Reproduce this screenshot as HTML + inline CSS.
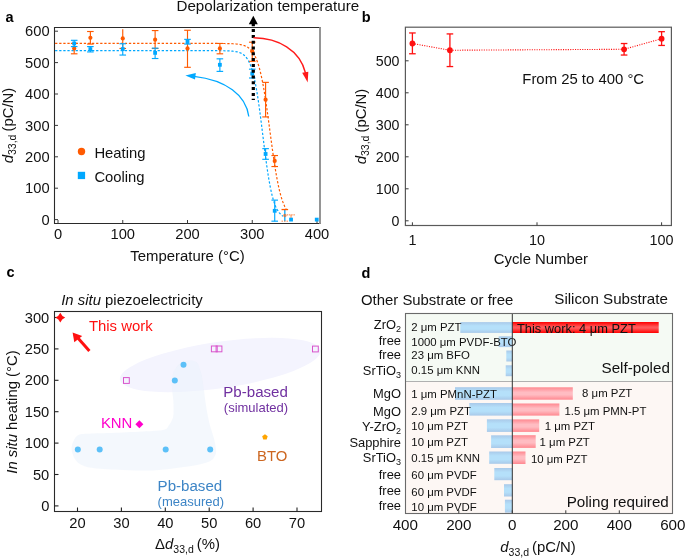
<!DOCTYPE html>
<html><head><meta charset="utf-8"><style>
html,body{margin:0;padding:0;background:#fff;}
svg{display:block;will-change:transform;font-family:"Liberation Sans", sans-serif;}
</style></head><body>
<svg width="685" height="558" viewBox="0 0 685 558">
<rect width="685" height="558" fill="#fff"/>
<text x="5.50" y="22.30" font-size="14.5" text-anchor="start" font-weight="bold" font-style="normal" fill="#000" >a</text>
<path d="M320.5,27.5 H54.5 V223.5 H320.5" fill="none" stroke="#2a2a2a" stroke-width="1.1"/>
<line x1="320.0" y1="26.95" x2="320.0" y2="224.05" stroke="#8a8a8a" stroke-width="1.8"/>
<line x1="54.50" y1="219.60" x2="58.00" y2="219.60" stroke="#3a3a3a" stroke-width="1" />
<text x="49.60" y="224.70" font-size="14.7" text-anchor="end" font-weight="normal" font-style="normal" fill="#111" >0</text>
<line x1="54.50" y1="188.20" x2="58.00" y2="188.20" stroke="#3a3a3a" stroke-width="1" />
<text x="49.60" y="193.30" font-size="14.7" text-anchor="end" font-weight="normal" font-style="normal" fill="#111" >100</text>
<line x1="54.50" y1="156.80" x2="58.00" y2="156.80" stroke="#3a3a3a" stroke-width="1" />
<text x="49.60" y="161.90" font-size="14.7" text-anchor="end" font-weight="normal" font-style="normal" fill="#111" >200</text>
<line x1="54.50" y1="125.40" x2="58.00" y2="125.40" stroke="#3a3a3a" stroke-width="1" />
<text x="49.60" y="130.50" font-size="14.7" text-anchor="end" font-weight="normal" font-style="normal" fill="#111" >300</text>
<line x1="54.50" y1="94.00" x2="58.00" y2="94.00" stroke="#3a3a3a" stroke-width="1" />
<text x="49.60" y="99.10" font-size="14.7" text-anchor="end" font-weight="normal" font-style="normal" fill="#111" >400</text>
<line x1="54.50" y1="62.60" x2="58.00" y2="62.60" stroke="#3a3a3a" stroke-width="1" />
<text x="49.60" y="67.70" font-size="14.7" text-anchor="end" font-weight="normal" font-style="normal" fill="#111" >500</text>
<line x1="54.50" y1="31.20" x2="58.00" y2="31.20" stroke="#3a3a3a" stroke-width="1" />
<text x="49.60" y="36.30" font-size="14.7" text-anchor="end" font-weight="normal" font-style="normal" fill="#111" >600</text>
<line x1="58.00" y1="223.50" x2="58.00" y2="220.00" stroke="#3a3a3a" stroke-width="1" />
<text x="58.00" y="238.80" font-size="14.7" text-anchor="middle" font-weight="normal" font-style="normal" fill="#111" >0</text>
<line x1="122.75" y1="223.50" x2="122.75" y2="220.00" stroke="#3a3a3a" stroke-width="1" />
<text x="122.75" y="238.80" font-size="14.7" text-anchor="middle" font-weight="normal" font-style="normal" fill="#111" >100</text>
<line x1="187.50" y1="223.50" x2="187.50" y2="220.00" stroke="#3a3a3a" stroke-width="1" />
<text x="187.50" y="238.80" font-size="14.7" text-anchor="middle" font-weight="normal" font-style="normal" fill="#111" >200</text>
<line x1="252.25" y1="223.50" x2="252.25" y2="220.00" stroke="#3a3a3a" stroke-width="1" />
<text x="252.25" y="238.80" font-size="14.7" text-anchor="middle" font-weight="normal" font-style="normal" fill="#111" >300</text>
<line x1="317.00" y1="223.50" x2="317.00" y2="220.00" stroke="#3a3a3a" stroke-width="1" />
<text x="317.00" y="238.80" font-size="14.7" text-anchor="middle" font-weight="normal" font-style="normal" fill="#111" >400</text>
<text x="187.50" y="261.30" font-size="14.9" text-anchor="middle" font-weight="normal" font-style="normal" fill="#111" >Temperature (°C)</text>
<text transform="translate(12.7,125.5) rotate(-90)" font-size="14.9" text-anchor="middle" fill="#111"><tspan font-style="italic">d</tspan><tspan font-size="10.5" dy="3.5">33,d</tspan><tspan dy="-3.5" dx="-1.1"> (pC/N)</tspan></text>
<path d="M55.09,50.67 L55.41,50.67 L55.73,50.67 L56.06,50.67 L56.38,50.67 L56.70,50.67 L57.03,50.67 L57.35,50.67 L57.68,50.67 L58.00,50.67 L58.32,50.67 L58.65,50.67 L58.97,50.67 L59.30,50.67 L59.62,50.67 L59.94,50.67 L60.27,50.67 L60.59,50.67 L60.91,50.67 L61.24,50.67 L61.56,50.67 L61.88,50.67 L62.21,50.67 L62.53,50.67 L62.86,50.67 L63.18,50.67 L63.50,50.67 L63.83,50.67 L64.15,50.67 L64.47,50.67 L64.80,50.67 L65.12,50.67 L65.45,50.67 L65.77,50.67 L66.09,50.67 L66.42,50.67 L66.74,50.67 L67.06,50.67 L67.39,50.67 L67.71,50.67 L68.04,50.67 L68.36,50.67 L68.68,50.67 L69.01,50.67 L69.33,50.67 L69.66,50.67 L69.98,50.67 L70.30,50.67 L70.63,50.67 L70.95,50.67 L71.27,50.67 L71.60,50.67 L71.92,50.67 L72.25,50.67 L72.57,50.67 L72.89,50.67 L73.22,50.67 L73.54,50.67 L73.86,50.67 L74.19,50.67 L74.51,50.67 L74.84,50.67 L75.16,50.67 L75.48,50.67 L75.81,50.67 L76.13,50.67 L76.45,50.67 L76.78,50.67 L77.10,50.67 L77.42,50.67 L77.75,50.67 L78.07,50.67 L78.40,50.67 L78.72,50.67 L79.04,50.67 L79.37,50.67 L79.69,50.67 L80.02,50.67 L80.34,50.67 L80.66,50.67 L80.99,50.67 L81.31,50.67 L81.63,50.67 L81.96,50.67 L82.28,50.67 L82.60,50.67 L82.93,50.67 L83.25,50.67 L83.58,50.67 L83.90,50.67 L84.22,50.67 L84.55,50.67 L84.87,50.67 L85.19,50.67 L85.52,50.67 L85.84,50.67 L86.17,50.67 L86.49,50.67 L86.81,50.67 L87.14,50.67 L87.46,50.67 L87.78,50.67 L88.11,50.67 L88.43,50.67 L88.76,50.67 L89.08,50.67 L89.40,50.67 L89.73,50.67 L90.05,50.67 L90.38,50.67 L90.70,50.67 L91.02,50.67 L91.35,50.67 L91.67,50.67 L91.99,50.67 L92.32,50.67 L92.64,50.67 L92.97,50.67 L93.29,50.67 L93.61,50.67 L93.94,50.67 L94.26,50.67 L94.58,50.67 L94.91,50.67 L95.23,50.67 L95.56,50.67 L95.88,50.67 L96.20,50.67 L96.53,50.67 L96.85,50.67 L97.17,50.67 L97.50,50.67 L97.82,50.67 L98.14,50.67 L98.47,50.67 L98.79,50.67 L99.12,50.67 L99.44,50.67 L99.76,50.67 L100.09,50.67 L100.41,50.67 L100.73,50.67 L101.06,50.67 L101.38,50.67 L101.71,50.67 L102.03,50.67 L102.35,50.67 L102.68,50.67 L103.00,50.67 L103.32,50.67 L103.65,50.67 L103.97,50.67 L104.30,50.67 L104.62,50.67 L104.94,50.67 L105.27,50.67 L105.59,50.67 L105.91,50.67 L106.24,50.67 L106.56,50.67 L106.89,50.67 L107.21,50.67 L107.53,50.67 L107.86,50.67 L108.18,50.67 L108.50,50.67 L108.83,50.67 L109.15,50.67 L109.48,50.67 L109.80,50.67 L110.12,50.67 L110.45,50.67 L110.77,50.67 L111.09,50.67 L111.42,50.67 L111.74,50.67 L112.07,50.67 L112.39,50.67 L112.71,50.67 L113.04,50.67 L113.36,50.67 L113.69,50.67 L114.01,50.67 L114.33,50.67 L114.66,50.67 L114.98,50.67 L115.30,50.67 L115.63,50.67 L115.95,50.67 L116.28,50.67 L116.60,50.67 L116.92,50.67 L117.25,50.67 L117.57,50.67 L117.89,50.67 L118.22,50.67 L118.54,50.67 L118.86,50.67 L119.19,50.67 L119.51,50.67 L119.84,50.67 L120.16,50.67 L120.48,50.67 L120.81,50.67 L121.13,50.67 L121.45,50.67 L121.78,50.67 L122.10,50.67 L122.43,50.67 L122.75,50.67 L123.07,50.67 L123.40,50.67 L123.72,50.67 L124.05,50.67 L124.37,50.67 L124.69,50.67 L125.02,50.67 L125.34,50.67 L125.66,50.67 L125.99,50.67 L126.31,50.67 L126.63,50.67 L126.96,50.67 L127.28,50.67 L127.61,50.67 L127.93,50.67 L128.25,50.67 L128.58,50.67 L128.90,50.67 L129.22,50.67 L129.55,50.67 L129.87,50.67 L130.20,50.67 L130.52,50.67 L130.84,50.67 L131.17,50.67 L131.49,50.67 L131.81,50.67 L132.14,50.67 L132.46,50.67 L132.79,50.67 L133.11,50.67 L133.43,50.67 L133.76,50.67 L134.08,50.67 L134.41,50.67 L134.73,50.67 L135.05,50.67 L135.38,50.67 L135.70,50.67 L136.02,50.67 L136.35,50.67 L136.67,50.67 L137.00,50.67 L137.32,50.67 L137.64,50.67 L137.97,50.67 L138.29,50.67 L138.61,50.67 L138.94,50.67 L139.26,50.67 L139.58,50.67 L139.91,50.67 L140.23,50.67 L140.56,50.67 L140.88,50.67 L141.20,50.67 L141.53,50.67 L141.85,50.67 L142.18,50.67 L142.50,50.67 L142.82,50.67 L143.15,50.67 L143.47,50.67 L143.79,50.67 L144.12,50.67 L144.44,50.67 L144.76,50.67 L145.09,50.67 L145.41,50.67 L145.74,50.67 L146.06,50.67 L146.38,50.67 L146.71,50.67 L147.03,50.67 L147.35,50.67 L147.68,50.67 L148.00,50.67 L148.33,50.67 L148.65,50.67 L148.97,50.67 L149.30,50.67 L149.62,50.67 L149.94,50.67 L150.27,50.67 L150.59,50.67 L150.92,50.67 L151.24,50.67 L151.56,50.67 L151.89,50.67 L152.21,50.67 L152.53,50.67 L152.86,50.67 L153.18,50.67 L153.51,50.67 L153.83,50.67 L154.15,50.67 L154.48,50.67 L154.80,50.67 L155.12,50.67 L155.45,50.67 L155.77,50.67 L156.10,50.67 L156.42,50.67 L156.74,50.67 L157.07,50.67 L157.39,50.67 L157.71,50.67 L158.04,50.67 L158.36,50.67 L158.69,50.67 L159.01,50.67 L159.33,50.67 L159.66,50.67 L159.98,50.67 L160.31,50.67 L160.63,50.67 L160.95,50.67 L161.28,50.67 L161.60,50.67 L161.92,50.67 L162.25,50.67 L162.57,50.67 L162.89,50.67 L163.22,50.67 L163.54,50.67 L163.87,50.67 L164.19,50.67 L164.51,50.67 L164.84,50.67 L165.16,50.67 L165.49,50.67 L165.81,50.67 L166.13,50.67 L166.46,50.67 L166.78,50.67 L167.10,50.67 L167.43,50.67 L167.75,50.67 L168.07,50.67 L168.40,50.67 L168.72,50.67 L169.05,50.67 L169.37,50.67 L169.69,50.67 L170.02,50.67 L170.34,50.67 L170.66,50.67 L170.99,50.67 L171.31,50.67 L171.64,50.67 L171.96,50.67 L172.28,50.67 L172.61,50.67 L172.93,50.67 L173.25,50.67 L173.58,50.67 L173.90,50.67 L174.23,50.67 L174.55,50.67 L174.87,50.67 L175.20,50.67 L175.52,50.67 L175.84,50.67 L176.17,50.67 L176.49,50.67 L176.82,50.67 L177.14,50.67 L177.46,50.67 L177.79,50.67 L178.11,50.67 L178.44,50.67 L178.76,50.67 L179.08,50.67 L179.41,50.67 L179.73,50.67 L180.05,50.67 L180.38,50.67 L180.70,50.67 L181.02,50.67 L181.35,50.67 L181.67,50.67 L182.00,50.67 L182.32,50.67 L182.64,50.67 L182.97,50.67 L183.29,50.67 L183.62,50.67 L183.94,50.67 L184.26,50.67 L184.59,50.67 L184.91,50.67 L185.23,50.67 L185.56,50.67 L185.88,50.67 L186.20,50.67 L186.53,50.67 L186.85,50.67 L187.18,50.67 L187.50,50.67 L187.82,50.67 L188.15,50.67 L188.47,50.67 L188.79,50.67 L189.12,50.67 L189.44,50.67 L189.77,50.67 L190.09,50.67 L190.41,50.67 L190.74,50.67 L191.06,50.67 L191.38,50.67 L191.71,50.67 L192.03,50.67 L192.36,50.67 L192.68,50.67 L193.00,50.67 L193.33,50.67 L193.65,50.67 L193.97,50.67 L194.30,50.67 L194.62,50.67 L194.95,50.67 L195.27,50.67 L195.59,50.67 L195.92,50.67 L196.24,50.67 L196.56,50.67 L196.89,50.67 L197.21,50.67 L197.54,50.67 L197.86,50.67 L198.18,50.67 L198.51,50.67 L198.83,50.67 L199.16,50.67 L199.48,50.67 L199.80,50.67 L200.13,50.67 L200.45,50.67 L200.77,50.67 L201.10,50.67 L201.42,50.67 L201.75,50.67 L202.07,50.67 L202.39,50.67 L202.72,50.67 L203.04,50.67 L203.36,50.67 L203.69,50.67 L204.01,50.67 L204.33,50.67 L204.66,50.67 L204.98,50.67 L205.31,50.67 L205.63,50.67 L205.95,50.67 L206.28,50.67 L206.60,50.67 L206.92,50.67 L207.25,50.67 L207.57,50.67 L207.90,50.67 L208.22,50.67 L208.54,50.67 L208.87,50.67 L209.19,50.67 L209.51,50.67 L209.84,50.67 L210.16,50.67 L210.49,50.68 L210.81,50.68 L211.13,50.68 L211.46,50.68 L211.78,50.68 L212.10,50.68 L212.43,50.68 L212.75,50.68 L213.08,50.68 L213.40,50.68 L213.72,50.68 L214.05,50.68 L214.37,50.68 L214.69,50.68 L215.02,50.69 L215.34,50.69 L215.67,50.69 L215.99,50.69 L216.31,50.69 L216.64,50.69 L216.96,50.69 L217.28,50.70 L217.61,50.70 L217.93,50.70 L218.26,50.70 L218.58,50.70 L218.90,50.71 L219.23,50.71 L219.55,50.71 L219.88,50.71 L220.20,50.72 L220.52,50.72 L220.85,50.72 L221.17,50.73 L221.49,50.73 L221.82,50.73 L222.14,50.74 L222.47,50.74 L222.79,50.75 L223.11,50.75 L223.44,50.76 L223.76,50.76 L224.08,50.77 L224.41,50.77 L224.73,50.78 L225.05,50.79 L225.38,50.80 L225.70,50.80 L226.03,50.81 L226.35,50.82 L226.67,50.83 L227.00,50.84 L227.32,50.85 L227.64,50.87 L227.97,50.88 L228.29,50.89 L228.62,50.91 L228.94,50.92 L229.26,50.94 L229.59,50.96 L229.91,50.97 L230.23,50.99 L230.56,51.01 L230.88,51.04 L231.21,51.06 L231.53,51.09 L231.85,51.11 L232.18,51.14 L232.50,51.17 L232.82,51.20 L233.15,51.24 L233.47,51.27 L233.80,51.31 L234.12,51.35 L234.44,51.40 L234.77,51.44 L235.09,51.49 L235.41,51.55 L235.74,51.60 L236.06,51.66 L236.39,51.72 L236.71,51.79 L237.03,51.86 L237.36,51.94 L237.68,52.02 L238.00,52.11 L238.33,52.20 L238.65,52.29 L238.98,52.40 L239.30,52.51 L239.62,52.62 L239.95,52.75 L240.27,52.88 L240.59,53.02 L240.92,53.17 L241.24,53.32 L241.57,53.49 L241.89,53.67 L242.21,53.86 L242.54,54.06 L242.86,54.27 L243.19,54.50 L243.51,54.74 L243.83,54.99 L244.16,55.26 L244.48,55.55 L244.80,55.85 L245.13,56.17 L245.45,56.51 L245.77,56.87 L246.10,57.25 L246.42,57.66 L246.75,58.09 L247.07,58.54 L247.39,59.02 L247.72,59.53 L248.04,60.06 L248.36,60.63 L248.69,61.23 L249.01,61.86 L249.34,62.52 L249.66,63.23 L249.98,63.97 L250.31,64.75 L250.63,65.57 L250.95,66.44 L251.28,67.35 L251.60,68.31 L251.93,69.31 L252.25,70.37 L252.57,71.48 L252.90,72.64 L253.22,73.85 L253.54,75.12 L253.87,76.45 L254.19,77.83 L254.52,79.28 L254.84,80.79 L255.16,82.36 L255.49,83.99 L255.81,85.68 L256.13,87.43 L256.46,89.25 L256.78,91.13 L257.11,93.07 L257.43,95.08 L257.75,97.14 L258.08,99.26 L258.40,101.44 L258.73,103.67 L259.05,105.96 L259.37,108.29 L259.70,110.67 L260.02,113.10 L260.34,115.56 L260.67,118.06 L260.99,120.59 L261.31,123.15 L261.64,125.73 L261.96,128.33 L262.29,130.94 L262.61,133.56 L262.93,136.18 L263.26,138.80 L263.58,141.42 L263.90,144.02 L264.23,146.60 L264.55,149.17 L264.88,151.70 L265.20,154.21 L265.52,156.68 L265.85,159.11 L266.17,161.50 L266.50,163.85 L266.82,166.14 L267.14,168.39 L267.47,170.58 L267.79,172.71 L268.11,174.78 L268.44,176.80 L268.76,178.75 L269.08,180.65 L269.41,182.48 L269.73,184.24 L270.06,185.95 L270.38,187.59 L270.70,189.17 L271.03,190.69 L271.35,192.15 L271.67,193.55 L272.00,194.89 L272.32,196.17 L272.65,197.39 L272.97,198.56 L273.29,199.68 L273.62,200.75 L273.94,201.76 L274.26,202.73 L274.59,203.65 L274.91,204.52 L275.24,205.36 L275.56,206.15 L275.88,206.90 L276.21,207.61 L276.53,208.28 L276.86,208.92 L277.18,209.52 L277.50,210.10 L277.83,210.64 L278.15,211.15 L278.47,211.64 L278.80,212.09 L279.12,212.53 L279.44,212.94 L279.77,213.32 L280.09,213.69 L280.42,214.03 L280.74,214.36 L281.06,214.66 L281.39,214.95 L281.71,215.22 L282.03,215.48 L282.36,215.72 L282.68,215.95 L283.01,216.17" fill="none" stroke="#00a8ff" stroke-width="1.2" stroke-dasharray="2.3 1.8"/>
<path d="M55.09,43.45 L55.41,43.45 L55.73,43.45 L56.06,43.45 L56.38,43.45 L56.70,43.45 L57.03,43.45 L57.35,43.45 L57.68,43.45 L58.00,43.45 L58.32,43.45 L58.65,43.45 L58.97,43.45 L59.30,43.45 L59.62,43.45 L59.94,43.45 L60.27,43.45 L60.59,43.45 L60.91,43.45 L61.24,43.45 L61.56,43.45 L61.88,43.45 L62.21,43.45 L62.53,43.45 L62.86,43.45 L63.18,43.45 L63.50,43.45 L63.83,43.45 L64.15,43.45 L64.47,43.45 L64.80,43.45 L65.12,43.45 L65.45,43.45 L65.77,43.45 L66.09,43.45 L66.42,43.45 L66.74,43.45 L67.06,43.45 L67.39,43.45 L67.71,43.45 L68.04,43.45 L68.36,43.45 L68.68,43.45 L69.01,43.45 L69.33,43.45 L69.66,43.45 L69.98,43.45 L70.30,43.45 L70.63,43.45 L70.95,43.45 L71.27,43.45 L71.60,43.45 L71.92,43.45 L72.25,43.45 L72.57,43.45 L72.89,43.45 L73.22,43.45 L73.54,43.45 L73.86,43.45 L74.19,43.45 L74.51,43.45 L74.84,43.45 L75.16,43.45 L75.48,43.45 L75.81,43.45 L76.13,43.45 L76.45,43.45 L76.78,43.45 L77.10,43.45 L77.42,43.45 L77.75,43.45 L78.07,43.45 L78.40,43.45 L78.72,43.45 L79.04,43.45 L79.37,43.45 L79.69,43.45 L80.02,43.45 L80.34,43.45 L80.66,43.45 L80.99,43.45 L81.31,43.45 L81.63,43.45 L81.96,43.45 L82.28,43.45 L82.60,43.45 L82.93,43.45 L83.25,43.45 L83.58,43.45 L83.90,43.45 L84.22,43.45 L84.55,43.45 L84.87,43.45 L85.19,43.45 L85.52,43.45 L85.84,43.45 L86.17,43.45 L86.49,43.45 L86.81,43.45 L87.14,43.45 L87.46,43.45 L87.78,43.45 L88.11,43.45 L88.43,43.45 L88.76,43.45 L89.08,43.45 L89.40,43.45 L89.73,43.45 L90.05,43.45 L90.38,43.45 L90.70,43.45 L91.02,43.45 L91.35,43.45 L91.67,43.45 L91.99,43.45 L92.32,43.45 L92.64,43.45 L92.97,43.45 L93.29,43.45 L93.61,43.45 L93.94,43.45 L94.26,43.45 L94.58,43.45 L94.91,43.45 L95.23,43.45 L95.56,43.45 L95.88,43.45 L96.20,43.45 L96.53,43.45 L96.85,43.45 L97.17,43.45 L97.50,43.45 L97.82,43.45 L98.14,43.45 L98.47,43.45 L98.79,43.45 L99.12,43.45 L99.44,43.45 L99.76,43.45 L100.09,43.45 L100.41,43.45 L100.73,43.45 L101.06,43.45 L101.38,43.45 L101.71,43.45 L102.03,43.45 L102.35,43.45 L102.68,43.45 L103.00,43.45 L103.32,43.45 L103.65,43.45 L103.97,43.45 L104.30,43.45 L104.62,43.45 L104.94,43.45 L105.27,43.45 L105.59,43.45 L105.91,43.45 L106.24,43.45 L106.56,43.45 L106.89,43.45 L107.21,43.45 L107.53,43.45 L107.86,43.45 L108.18,43.45 L108.50,43.45 L108.83,43.45 L109.15,43.45 L109.48,43.45 L109.80,43.45 L110.12,43.45 L110.45,43.45 L110.77,43.45 L111.09,43.45 L111.42,43.45 L111.74,43.45 L112.07,43.45 L112.39,43.45 L112.71,43.45 L113.04,43.45 L113.36,43.45 L113.69,43.45 L114.01,43.45 L114.33,43.45 L114.66,43.45 L114.98,43.45 L115.30,43.45 L115.63,43.45 L115.95,43.45 L116.28,43.45 L116.60,43.45 L116.92,43.45 L117.25,43.45 L117.57,43.45 L117.89,43.45 L118.22,43.45 L118.54,43.45 L118.86,43.45 L119.19,43.45 L119.51,43.45 L119.84,43.45 L120.16,43.45 L120.48,43.45 L120.81,43.45 L121.13,43.45 L121.45,43.45 L121.78,43.45 L122.10,43.45 L122.43,43.45 L122.75,43.45 L123.07,43.45 L123.40,43.45 L123.72,43.45 L124.05,43.45 L124.37,43.45 L124.69,43.45 L125.02,43.45 L125.34,43.45 L125.66,43.45 L125.99,43.45 L126.31,43.45 L126.63,43.45 L126.96,43.45 L127.28,43.45 L127.61,43.45 L127.93,43.45 L128.25,43.45 L128.58,43.45 L128.90,43.45 L129.22,43.45 L129.55,43.45 L129.87,43.45 L130.20,43.45 L130.52,43.45 L130.84,43.45 L131.17,43.45 L131.49,43.45 L131.81,43.45 L132.14,43.45 L132.46,43.45 L132.79,43.45 L133.11,43.45 L133.43,43.45 L133.76,43.45 L134.08,43.45 L134.41,43.45 L134.73,43.45 L135.05,43.45 L135.38,43.45 L135.70,43.45 L136.02,43.45 L136.35,43.45 L136.67,43.45 L137.00,43.45 L137.32,43.45 L137.64,43.45 L137.97,43.45 L138.29,43.45 L138.61,43.45 L138.94,43.45 L139.26,43.45 L139.58,43.45 L139.91,43.45 L140.23,43.45 L140.56,43.45 L140.88,43.45 L141.20,43.45 L141.53,43.45 L141.85,43.45 L142.18,43.45 L142.50,43.45 L142.82,43.45 L143.15,43.45 L143.47,43.45 L143.79,43.45 L144.12,43.45 L144.44,43.45 L144.76,43.45 L145.09,43.45 L145.41,43.45 L145.74,43.45 L146.06,43.45 L146.38,43.45 L146.71,43.45 L147.03,43.45 L147.35,43.45 L147.68,43.45 L148.00,43.45 L148.33,43.45 L148.65,43.45 L148.97,43.45 L149.30,43.45 L149.62,43.45 L149.94,43.45 L150.27,43.45 L150.59,43.45 L150.92,43.45 L151.24,43.45 L151.56,43.45 L151.89,43.45 L152.21,43.45 L152.53,43.45 L152.86,43.45 L153.18,43.45 L153.51,43.45 L153.83,43.45 L154.15,43.45 L154.48,43.45 L154.80,43.45 L155.12,43.45 L155.45,43.45 L155.77,43.45 L156.10,43.45 L156.42,43.45 L156.74,43.45 L157.07,43.45 L157.39,43.45 L157.71,43.45 L158.04,43.45 L158.36,43.45 L158.69,43.45 L159.01,43.45 L159.33,43.45 L159.66,43.45 L159.98,43.45 L160.31,43.45 L160.63,43.45 L160.95,43.45 L161.28,43.45 L161.60,43.45 L161.92,43.45 L162.25,43.45 L162.57,43.45 L162.89,43.45 L163.22,43.45 L163.54,43.45 L163.87,43.45 L164.19,43.45 L164.51,43.45 L164.84,43.45 L165.16,43.45 L165.49,43.45 L165.81,43.45 L166.13,43.45 L166.46,43.45 L166.78,43.45 L167.10,43.45 L167.43,43.45 L167.75,43.45 L168.07,43.45 L168.40,43.45 L168.72,43.45 L169.05,43.45 L169.37,43.45 L169.69,43.45 L170.02,43.45 L170.34,43.45 L170.66,43.45 L170.99,43.45 L171.31,43.45 L171.64,43.45 L171.96,43.45 L172.28,43.45 L172.61,43.45 L172.93,43.45 L173.25,43.45 L173.58,43.45 L173.90,43.45 L174.23,43.45 L174.55,43.45 L174.87,43.45 L175.20,43.45 L175.52,43.45 L175.84,43.45 L176.17,43.45 L176.49,43.45 L176.82,43.45 L177.14,43.45 L177.46,43.45 L177.79,43.45 L178.11,43.45 L178.44,43.45 L178.76,43.45 L179.08,43.45 L179.41,43.45 L179.73,43.45 L180.05,43.45 L180.38,43.45 L180.70,43.45 L181.02,43.45 L181.35,43.45 L181.67,43.45 L182.00,43.45 L182.32,43.45 L182.64,43.45 L182.97,43.45 L183.29,43.45 L183.62,43.45 L183.94,43.45 L184.26,43.45 L184.59,43.45 L184.91,43.45 L185.23,43.45 L185.56,43.45 L185.88,43.45 L186.20,43.45 L186.53,43.45 L186.85,43.45 L187.18,43.45 L187.50,43.45 L187.82,43.45 L188.15,43.45 L188.47,43.45 L188.79,43.45 L189.12,43.45 L189.44,43.45 L189.77,43.45 L190.09,43.45 L190.41,43.45 L190.74,43.45 L191.06,43.45 L191.38,43.45 L191.71,43.45 L192.03,43.45 L192.36,43.45 L192.68,43.45 L193.00,43.45 L193.33,43.45 L193.65,43.45 L193.97,43.45 L194.30,43.45 L194.62,43.45 L194.95,43.45 L195.27,43.45 L195.59,43.45 L195.92,43.45 L196.24,43.45 L196.56,43.45 L196.89,43.45 L197.21,43.45 L197.54,43.45 L197.86,43.45 L198.18,43.45 L198.51,43.45 L198.83,43.45 L199.16,43.45 L199.48,43.45 L199.80,43.45 L200.13,43.45 L200.45,43.45 L200.77,43.45 L201.10,43.45 L201.42,43.45 L201.75,43.45 L202.07,43.45 L202.39,43.45 L202.72,43.45 L203.04,43.45 L203.36,43.45 L203.69,43.45 L204.01,43.45 L204.33,43.45 L204.66,43.45 L204.98,43.45 L205.31,43.45 L205.63,43.45 L205.95,43.45 L206.28,43.45 L206.60,43.45 L206.92,43.45 L207.25,43.45 L207.57,43.45 L207.90,43.45 L208.22,43.45 L208.54,43.45 L208.87,43.45 L209.19,43.45 L209.51,43.45 L209.84,43.45 L210.16,43.45 L210.49,43.45 L210.81,43.45 L211.13,43.45 L211.46,43.45 L211.78,43.45 L212.10,43.46 L212.43,43.46 L212.75,43.46 L213.08,43.46 L213.40,43.46 L213.72,43.46 L214.05,43.46 L214.37,43.46 L214.69,43.46 L215.02,43.46 L215.34,43.46 L215.67,43.46 L215.99,43.46 L216.31,43.46 L216.64,43.47 L216.96,43.47 L217.28,43.47 L217.61,43.47 L217.93,43.47 L218.26,43.47 L218.58,43.47 L218.90,43.47 L219.23,43.48 L219.55,43.48 L219.88,43.48 L220.20,43.48 L220.52,43.48 L220.85,43.49 L221.17,43.49 L221.49,43.49 L221.82,43.49 L222.14,43.50 L222.47,43.50 L222.79,43.50 L223.11,43.51 L223.44,43.51 L223.76,43.51 L224.08,43.52 L224.41,43.52 L224.73,43.52 L225.05,43.53 L225.38,43.53 L225.70,43.54 L226.03,43.54 L226.35,43.55 L226.67,43.55 L227.00,43.56 L227.32,43.57 L227.64,43.57 L227.97,43.58 L228.29,43.59 L228.62,43.60 L228.94,43.61 L229.26,43.61 L229.59,43.62 L229.91,43.63 L230.23,43.65 L230.56,43.66 L230.88,43.67 L231.21,43.68 L231.53,43.69 L231.85,43.71 L232.18,43.72 L232.50,43.74 L232.82,43.76 L233.15,43.77 L233.47,43.79 L233.80,43.81 L234.12,43.83 L234.44,43.85 L234.77,43.88 L235.09,43.90 L235.41,43.93 L235.74,43.95 L236.06,43.98 L236.39,44.01 L236.71,44.05 L237.03,44.08 L237.36,44.12 L237.68,44.15 L238.00,44.19 L238.33,44.24 L238.65,44.28 L238.98,44.33 L239.30,44.38 L239.62,44.43 L239.95,44.49 L240.27,44.54 L240.59,44.61 L240.92,44.67 L241.24,44.74 L241.57,44.81 L241.89,44.89 L242.21,44.97 L242.54,45.06 L242.86,45.15 L243.19,45.24 L243.51,45.34 L243.83,45.45 L244.16,45.56 L244.48,45.68 L244.80,45.81 L245.13,45.94 L245.45,46.08 L245.77,46.23 L246.10,46.38 L246.42,46.55 L246.75,46.72 L247.07,46.90 L247.39,47.09 L247.72,47.30 L248.04,47.51 L248.36,47.74 L248.69,47.97 L249.01,48.22 L249.34,48.49 L249.66,48.76 L249.98,49.06 L250.31,49.36 L250.63,49.69 L250.95,50.03 L251.28,50.39 L251.60,50.77 L251.93,51.16 L252.25,51.58 L252.57,52.02 L252.90,52.49 L253.22,52.97 L253.54,53.48 L253.87,54.02 L254.19,54.58 L254.52,55.17 L254.84,55.79 L255.16,56.44 L255.49,57.12 L255.81,57.83 L256.13,58.58 L256.46,59.36 L256.78,60.18 L257.11,61.03 L257.43,61.93 L257.75,62.86 L258.08,63.84 L258.40,64.86 L258.73,65.92 L259.05,67.02 L259.37,68.17 L259.70,69.37 L260.02,70.62 L260.34,71.91 L260.67,73.25 L260.99,74.65 L261.31,76.09 L261.64,77.59 L261.96,79.13 L262.29,80.73 L262.61,82.38 L262.93,84.08 L263.26,85.84 L263.58,87.64 L263.90,89.49 L264.23,91.40 L264.55,93.35 L264.88,95.35 L265.20,97.39 L265.52,99.48 L265.85,101.62 L266.17,103.79 L266.50,106.00 L266.82,108.24 L267.14,110.52 L267.47,112.83 L267.79,115.17 L268.11,117.53 L268.44,119.91 L268.76,122.31 L269.08,124.72 L269.41,127.15 L269.73,129.58 L270.06,132.01 L270.38,134.44 L270.70,136.87 L271.03,139.29 L271.35,141.70 L271.67,144.09 L272.00,146.46 L272.32,148.81 L272.65,151.14 L272.97,153.44 L273.29,155.70 L273.62,157.94 L273.94,160.13 L274.26,162.29 L274.59,164.40 L274.91,166.48 L275.24,168.50 L275.56,170.48 L275.88,172.42 L276.21,174.30 L276.53,176.13 L276.86,177.92 L277.18,179.65 L277.50,181.33 L277.83,182.96 L278.15,184.54 L278.47,186.06 L278.80,187.54 L279.12,188.96 L279.44,190.33 L279.77,191.66 L280.09,192.93 L280.42,194.16 L280.74,195.34 L281.06,196.47 L281.39,197.56 L281.71,198.60 L282.03,199.60 L282.36,200.56 L282.68,201.48 L283.01,202.36 L283.33,203.20 L283.65,204.00 L283.98,204.77 L284.30,205.50 L284.62,206.20 L284.95,206.87 L285.27,207.51 L285.60,208.12 L285.92,208.70 L286.24,209.25" fill="none" stroke="#ff5a00" stroke-width="1.2" stroke-dasharray="2.3 1.8"/>
<line x1="74.19" y1="43.45" x2="74.19" y2="53.81" stroke="#ff5a00" stroke-width="1.15" />
<line x1="70.89" y1="43.45" x2="77.49" y2="43.45" stroke="#ff5a00" stroke-width="1.15" />
<line x1="70.89" y1="53.81" x2="77.49" y2="53.81" stroke="#ff5a00" stroke-width="1.15" />
<circle cx="74.19" cy="48.47" r="2.1" fill="#ff5a00"/>
<line x1="90.38" y1="31.51" x2="90.38" y2="44.07" stroke="#ff5a00" stroke-width="1.15" />
<line x1="87.08" y1="31.51" x2="93.67" y2="31.51" stroke="#ff5a00" stroke-width="1.15" />
<line x1="87.08" y1="44.07" x2="93.67" y2="44.07" stroke="#ff5a00" stroke-width="1.15" />
<circle cx="90.38" cy="37.79" r="2.1" fill="#ff5a00"/>
<line x1="122.75" y1="29.32" x2="122.75" y2="48.47" stroke="#ff5a00" stroke-width="1.15" />
<line x1="119.45" y1="48.47" x2="126.05" y2="48.47" stroke="#ff5a00" stroke-width="1.15" />
<circle cx="122.75" cy="38.42" r="2.1" fill="#ff5a00"/>
<line x1="155.12" y1="30.57" x2="155.12" y2="48.47" stroke="#ff5a00" stroke-width="1.15" />
<line x1="151.82" y1="30.57" x2="158.43" y2="30.57" stroke="#ff5a00" stroke-width="1.15" />
<line x1="151.82" y1="48.47" x2="158.43" y2="48.47" stroke="#ff5a00" stroke-width="1.15" />
<circle cx="155.12" cy="39.68" r="2.1" fill="#ff5a00"/>
<line x1="187.50" y1="30.26" x2="187.50" y2="67.31" stroke="#ff5a00" stroke-width="1.15" />
<line x1="184.20" y1="30.26" x2="190.80" y2="30.26" stroke="#ff5a00" stroke-width="1.15" />
<line x1="184.20" y1="67.31" x2="190.80" y2="67.31" stroke="#ff5a00" stroke-width="1.15" />
<circle cx="187.50" cy="48.47" r="2.1" fill="#ff5a00"/>
<line x1="219.88" y1="43.45" x2="219.88" y2="53.81" stroke="#ff5a00" stroke-width="1.15" />
<line x1="216.57" y1="43.45" x2="223.18" y2="43.45" stroke="#ff5a00" stroke-width="1.15" />
<line x1="216.57" y1="53.81" x2="223.18" y2="53.81" stroke="#ff5a00" stroke-width="1.15" />
<circle cx="219.88" cy="48.47" r="2.1" fill="#ff5a00"/>
<line x1="252.25" y1="42.19" x2="252.25" y2="61.34" stroke="#ff5a00" stroke-width="1.15" />
<line x1="248.95" y1="42.19" x2="255.55" y2="42.19" stroke="#ff5a00" stroke-width="1.15" />
<line x1="248.95" y1="61.34" x2="255.55" y2="61.34" stroke="#ff5a00" stroke-width="1.15" />
<circle cx="252.25" cy="51.30" r="2.1" fill="#ff5a00"/>
<line x1="265.59" y1="82.38" x2="265.59" y2="116.92" stroke="#ff5a00" stroke-width="1.15" />
<line x1="262.29" y1="82.38" x2="268.89" y2="82.38" stroke="#ff5a00" stroke-width="1.15" />
<line x1="262.29" y1="116.92" x2="268.89" y2="116.92" stroke="#ff5a00" stroke-width="1.15" />
<circle cx="265.59" cy="99.65" r="2.1" fill="#ff5a00"/>
<line x1="274.72" y1="155.54" x2="274.72" y2="166.53" stroke="#ff5a00" stroke-width="1.15" />
<line x1="271.42" y1="155.54" x2="278.02" y2="155.54" stroke="#ff5a00" stroke-width="1.15" />
<line x1="271.42" y1="166.53" x2="278.02" y2="166.53" stroke="#ff5a00" stroke-width="1.15" />
<circle cx="274.72" cy="160.88" r="2.1" fill="#ff5a00"/>
<line x1="74.19" y1="40.31" x2="74.19" y2="46.59" stroke="#00a8ff" stroke-width="1.15" />
<line x1="70.89" y1="40.31" x2="77.49" y2="40.31" stroke="#00a8ff" stroke-width="1.15" />
<line x1="70.89" y1="46.59" x2="77.49" y2="46.59" stroke="#00a8ff" stroke-width="1.15" />
<rect x="72.29" y="41.55" width="3.8" height="3.8" fill="#00a8ff"/>
<line x1="90.38" y1="46.59" x2="90.38" y2="51.92" stroke="#00a8ff" stroke-width="1.15" />
<line x1="87.08" y1="46.59" x2="93.67" y2="46.59" stroke="#00a8ff" stroke-width="1.15" />
<line x1="87.08" y1="51.92" x2="93.67" y2="51.92" stroke="#00a8ff" stroke-width="1.15" />
<rect x="88.47" y="47.20" width="3.8" height="3.8" fill="#00a8ff"/>
<line x1="122.75" y1="43.76" x2="122.75" y2="55.06" stroke="#00a8ff" stroke-width="1.15" />
<line x1="119.45" y1="43.76" x2="126.05" y2="43.76" stroke="#00a8ff" stroke-width="1.15" />
<line x1="119.45" y1="55.06" x2="126.05" y2="55.06" stroke="#00a8ff" stroke-width="1.15" />
<rect x="120.85" y="47.20" width="3.8" height="3.8" fill="#00a8ff"/>
<line x1="155.12" y1="48.16" x2="155.12" y2="58.52" stroke="#00a8ff" stroke-width="1.15" />
<line x1="151.82" y1="48.16" x2="158.43" y2="48.16" stroke="#00a8ff" stroke-width="1.15" />
<line x1="151.82" y1="58.52" x2="158.43" y2="58.52" stroke="#00a8ff" stroke-width="1.15" />
<rect x="153.22" y="50.97" width="3.8" height="3.8" fill="#00a8ff"/>
<line x1="187.50" y1="39.36" x2="187.50" y2="44.07" stroke="#00a8ff" stroke-width="1.15" />
<line x1="184.20" y1="39.36" x2="190.80" y2="39.36" stroke="#00a8ff" stroke-width="1.15" />
<line x1="184.20" y1="44.07" x2="190.80" y2="44.07" stroke="#00a8ff" stroke-width="1.15" />
<rect x="185.60" y="39.98" width="3.8" height="3.8" fill="#00a8ff"/>
<line x1="219.88" y1="58.83" x2="219.88" y2="71.39" stroke="#00a8ff" stroke-width="1.15" />
<line x1="216.57" y1="58.83" x2="223.18" y2="58.83" stroke="#00a8ff" stroke-width="1.15" />
<line x1="216.57" y1="71.39" x2="223.18" y2="71.39" stroke="#00a8ff" stroke-width="1.15" />
<rect x="217.97" y="62.90" width="3.8" height="3.8" fill="#00a8ff"/>
<line x1="252.25" y1="69.19" x2="252.25" y2="77.99" stroke="#00a8ff" stroke-width="1.15" />
<line x1="248.95" y1="69.19" x2="255.55" y2="69.19" stroke="#00a8ff" stroke-width="1.15" />
<line x1="248.95" y1="77.99" x2="255.55" y2="77.99" stroke="#00a8ff" stroke-width="1.15" />
<rect x="250.35" y="71.69" width="3.8" height="3.8" fill="#00a8ff"/>
<line x1="265.59" y1="148.64" x2="265.59" y2="159.31" stroke="#00a8ff" stroke-width="1.15" />
<line x1="262.29" y1="148.64" x2="268.89" y2="148.64" stroke="#00a8ff" stroke-width="1.15" />
<line x1="262.29" y1="159.31" x2="268.89" y2="159.31" stroke="#00a8ff" stroke-width="1.15" />
<rect x="263.69" y="152.07" width="3.8" height="3.8" fill="#00a8ff"/>
<line x1="274.72" y1="200.13" x2="274.72" y2="221.17" stroke="#00a8ff" stroke-width="1.15" />
<line x1="271.42" y1="200.13" x2="278.02" y2="200.13" stroke="#00a8ff" stroke-width="1.15" />
<line x1="271.42" y1="221.17" x2="278.02" y2="221.17" stroke="#00a8ff" stroke-width="1.15" />
<rect x="272.82" y="208.91" width="3.8" height="3.8" fill="#00a8ff"/>
<line x1="284.82" y1="209.55" x2="284.82" y2="221.17" stroke="#00a8ff" stroke-width="1.3" />
<line x1="281.52" y1="221.17" x2="288.12" y2="221.17" stroke="#ff5a00" stroke-width="1.0" stroke-dasharray="1.5 1" stroke-opacity="0.7"/>
<line x1="281.52" y1="209.55" x2="288.12" y2="209.55" stroke="#ff5a00" stroke-width="1.3" />
<circle cx="284.82" cy="215.52" r="1.8" fill="#ff5a00" fill-opacity="0.6"/>
<line x1="291.04" y1="214.89" x2="291.04" y2="218.66" stroke="#ff5a00" stroke-width="0.9" stroke-opacity="0.8"/>
<line x1="286.84" y1="214.89" x2="295.24" y2="214.89" stroke="#ff5a00" stroke-width="1.0" stroke-dasharray="1.4 0.8" stroke-opacity="0.8"/>
<rect x="289.14" y="217.70" width="3.8" height="3.8" fill="#00a8ff"/>
<rect x="314.84" y="217.70" width="3.8" height="3.8" fill="#00a8ff"/>
<circle cx="81.5" cy="151.5" r="3.7" fill="#ff5a00"/>
<rect x="77.8" y="171.8" width="7.3" height="7.3" fill="#00a8ff"/>
<text x="94.40" y="158.20" font-size="14.8" text-anchor="start" font-weight="normal" font-style="normal" fill="#111" >Heating</text>
<text x="94.40" y="181.80" font-size="14.8" text-anchor="start" font-weight="normal" font-style="normal" fill="#111" >Cooling</text>
<line x1="253.30" y1="24.00" x2="253.30" y2="100.00" stroke="#000" stroke-width="3.2" stroke-dasharray="3 2.8" stroke-dashoffset="0.7"/>
<polygon points="253.3,15.7 248.8,24.3 257.8,24.3" fill="#000"/>
<text x="176.50" y="10.90" font-size="15.15" text-anchor="start" font-weight="normal" font-style="normal" fill="#111" >Depolarization temperature</text>
<path d="M253.5,37.8 C278,38 300,50 305.5,73" fill="none" stroke="#ff1a1a" stroke-width="1.4"/>
<polygon points="307.7,82.6 302.2,72.8 308.3,71.8" fill="#ff1a1a"/>
<path d="M248.8,116.5 C246,95 226,80 194,76.3" fill="none" stroke="#00a8ff" stroke-width="1.3"/>
<polygon points="185.4,75.4 195.8,73.0 195.0,79.4" fill="#00a8ff"/>
<text x="361.80" y="22.00" font-size="14.5" text-anchor="start" font-weight="bold" font-style="normal" fill="#000" >b</text>
<rect x="405.4" y="27.2" width="266.0" height="198.3" fill="none" stroke="#5a5a5a" stroke-width="1.2"/>
<line x1="405.40" y1="220.80" x2="408.60" y2="220.80" stroke="#3a3a3a" stroke-width="1" />
<text x="399.50" y="225.80" font-size="14.2" text-anchor="end" font-weight="normal" font-style="normal" fill="#111" >0</text>
<line x1="405.40" y1="188.80" x2="408.60" y2="188.80" stroke="#3a3a3a" stroke-width="1" />
<text x="399.50" y="193.80" font-size="14.2" text-anchor="end" font-weight="normal" font-style="normal" fill="#111" >100</text>
<line x1="405.40" y1="156.80" x2="408.60" y2="156.80" stroke="#3a3a3a" stroke-width="1" />
<text x="399.50" y="161.80" font-size="14.2" text-anchor="end" font-weight="normal" font-style="normal" fill="#111" >200</text>
<line x1="405.40" y1="124.80" x2="408.60" y2="124.80" stroke="#3a3a3a" stroke-width="1" />
<text x="399.50" y="129.80" font-size="14.2" text-anchor="end" font-weight="normal" font-style="normal" fill="#111" >300</text>
<line x1="405.40" y1="92.80" x2="408.60" y2="92.80" stroke="#3a3a3a" stroke-width="1" />
<text x="399.50" y="97.80" font-size="14.2" text-anchor="end" font-weight="normal" font-style="normal" fill="#111" >400</text>
<line x1="405.40" y1="60.80" x2="408.60" y2="60.80" stroke="#3a3a3a" stroke-width="1" />
<text x="399.50" y="65.80" font-size="14.2" text-anchor="end" font-weight="normal" font-style="normal" fill="#111" >500</text>
<line x1="412.40" y1="225.50" x2="412.40" y2="222.30" stroke="#3a3a3a" stroke-width="1" />
<text x="412.40" y="245.20" font-size="14.4" text-anchor="middle" font-weight="normal" font-style="normal" fill="#111" >1</text>
<line x1="537.00" y1="225.50" x2="537.00" y2="222.30" stroke="#3a3a3a" stroke-width="1" />
<text x="537.00" y="245.20" font-size="14.4" text-anchor="middle" font-weight="normal" font-style="normal" fill="#111" >10</text>
<line x1="661.60" y1="225.50" x2="661.60" y2="222.30" stroke="#3a3a3a" stroke-width="1" />
<text x="661.60" y="245.20" font-size="14.4" text-anchor="middle" font-weight="normal" font-style="normal" fill="#111" >100</text>
<text x="540.90" y="263.50" font-size="14.9" text-anchor="middle" font-weight="normal" font-style="normal" fill="#111" >Cycle Number</text>
<text transform="translate(365.5,126.5) rotate(-90)" font-size="14.9" text-anchor="middle" fill="#111"><tspan font-style="italic">d</tspan><tspan font-size="10.5" dy="3.5">33,d</tspan><tspan dy="-3.5" dx="-1.1"> (pC/N)</tspan></text>
<path d="M412.40,43.52 L449.91,50.24 L624.09,49.28 L661.60,38.72" fill="none" stroke="#ff1010" stroke-width="1.1" stroke-dasharray="1.1 1.3"/>
<line x1="412.40" y1="32.96" x2="412.40" y2="53.76" stroke="#ff1010" stroke-width="1.3" />
<line x1="409.10" y1="32.96" x2="415.70" y2="32.96" stroke="#ff1010" stroke-width="1.3" />
<line x1="409.10" y1="53.76" x2="415.70" y2="53.76" stroke="#ff1010" stroke-width="1.3" />
<circle cx="412.40" cy="43.52" r="2.9" fill="#ff1010"/>
<line x1="449.91" y1="33.92" x2="449.91" y2="66.56" stroke="#ff1010" stroke-width="1.3" />
<line x1="446.61" y1="33.92" x2="453.21" y2="33.92" stroke="#ff1010" stroke-width="1.3" />
<line x1="446.61" y1="66.56" x2="453.21" y2="66.56" stroke="#ff1010" stroke-width="1.3" />
<circle cx="449.91" cy="50.24" r="2.9" fill="#ff1010"/>
<line x1="624.09" y1="43.52" x2="624.09" y2="55.04" stroke="#ff1010" stroke-width="1.3" />
<line x1="620.79" y1="43.52" x2="627.39" y2="43.52" stroke="#ff1010" stroke-width="1.3" />
<line x1="620.79" y1="55.04" x2="627.39" y2="55.04" stroke="#ff1010" stroke-width="1.3" />
<circle cx="624.09" cy="49.28" r="2.9" fill="#ff1010"/>
<line x1="661.60" y1="31.68" x2="661.60" y2="45.44" stroke="#ff1010" stroke-width="1.3" />
<line x1="658.30" y1="31.68" x2="664.90" y2="31.68" stroke="#ff1010" stroke-width="1.3" />
<line x1="658.30" y1="45.44" x2="664.90" y2="45.44" stroke="#ff1010" stroke-width="1.3" />
<circle cx="661.60" cy="38.72" r="2.9" fill="#ff1010"/>
<text x="522.30" y="84.30" font-size="14.9" text-anchor="start" font-weight="normal" font-style="normal" fill="#111" >From 25 to 400 °C</text>
<text x="6.50" y="276.90" font-size="14.5" text-anchor="start" font-weight="bold" font-style="normal" fill="#000" >c</text>
<text x="61.2" y="304.6" font-size="14.9" fill="#111"><tspan font-style="italic">In situ</tspan> piezoelectricity</text>
<defs><clipPath id="cc"><rect x="54.5" y="311.5" width="267.0" height="200.0"/></clipPath></defs>
<g clip-path="url(#cc)">
<ellipse cx="220.2" cy="365.0" rx="101.4" ry="23.2" transform="rotate(-8.3 220.2 365)" fill="#f4f4fe"/>
<path d="M190.80,360.50 C193.50,360.50 195.82,361.73 197.30,363.10 C198.78,364.47 198.97,366.68 199.70,368.70 C200.43,370.72 201.17,372.78 201.70,375.20 C202.23,377.62 202.50,380.52 202.90,383.20 C203.30,385.88 203.72,388.50 204.10,391.30 C204.48,394.10 204.78,397.00 205.20,400.00 C205.62,403.00 205.88,405.35 206.60,409.30 C207.32,413.25 208.30,418.92 209.50,423.70 C210.70,428.48 212.72,433.70 213.80,438.00 C214.88,442.30 215.77,446.62 216.00,449.50 C216.23,452.38 216.17,453.38 215.20,455.30 C214.23,457.22 213.42,459.33 210.20,461.00 C206.98,462.67 201.88,464.10 195.90,465.30 C189.92,466.50 181.52,467.35 174.30,468.20 C167.08,469.05 161.08,470.12 152.60,470.40 C144.12,470.68 133.13,470.27 123.40,469.90 C113.67,469.53 101.02,468.97 94.20,468.20 C87.38,467.43 85.67,466.77 82.50,465.30 C79.33,463.83 77.02,462.08 75.20,459.40 C73.38,456.72 71.83,452.37 71.60,449.20 C71.37,446.03 72.47,442.83 73.80,440.40 C75.13,437.97 76.20,435.77 79.60,434.60 C83.00,433.43 86.90,433.77 94.20,433.40 C101.50,433.03 113.67,432.80 123.40,432.40 C133.13,432.00 145.67,431.48 152.60,431.00 C159.53,430.52 162.33,430.37 165.00,429.50 C167.67,428.63 167.28,427.72 168.60,425.80 C169.92,423.88 172.07,420.75 172.90,418.00 C173.73,415.25 173.53,412.30 173.60,409.30 C173.67,406.30 173.52,403.00 173.30,400.00 C173.08,397.00 172.53,394.10 172.30,391.30 C172.07,388.50 171.83,385.88 171.90,383.20 C171.97,380.52 172.10,377.62 172.70,375.20 C173.30,372.78 174.10,370.72 175.50,368.70 C176.90,366.68 178.55,364.47 181.10,363.10 C183.65,361.73 188.10,360.50 190.80,360.50 Z" fill="#e9f1fc" fill-opacity="0.5"/>
</g>
<rect x="54.5" y="311.5" width="267.0" height="200.0" fill="none" stroke="#2a2a2a" stroke-width="1.1"/>
<line x1="54.50" y1="505.90" x2="58.50" y2="505.90" stroke="#222" stroke-width="1.1" />
<text x="49.30" y="511.00" font-size="14.7" text-anchor="end" font-weight="normal" font-style="normal" fill="#111" >0</text>
<line x1="54.50" y1="474.50" x2="58.50" y2="474.50" stroke="#222" stroke-width="1.1" />
<text x="49.30" y="479.60" font-size="14.7" text-anchor="end" font-weight="normal" font-style="normal" fill="#111" >50</text>
<line x1="54.50" y1="443.10" x2="58.50" y2="443.10" stroke="#222" stroke-width="1.1" />
<text x="49.30" y="448.20" font-size="14.7" text-anchor="end" font-weight="normal" font-style="normal" fill="#111" >100</text>
<line x1="54.50" y1="411.70" x2="58.50" y2="411.70" stroke="#222" stroke-width="1.1" />
<text x="49.30" y="416.80" font-size="14.7" text-anchor="end" font-weight="normal" font-style="normal" fill="#111" >150</text>
<line x1="54.50" y1="380.30" x2="58.50" y2="380.30" stroke="#222" stroke-width="1.1" />
<text x="49.30" y="385.40" font-size="14.7" text-anchor="end" font-weight="normal" font-style="normal" fill="#111" >200</text>
<line x1="54.50" y1="348.90" x2="58.50" y2="348.90" stroke="#222" stroke-width="1.1" />
<text x="49.30" y="354.00" font-size="14.7" text-anchor="end" font-weight="normal" font-style="normal" fill="#111" >250</text>
<line x1="54.50" y1="317.50" x2="58.50" y2="317.50" stroke="#222" stroke-width="1.1" />
<text x="49.30" y="322.60" font-size="14.7" text-anchor="end" font-weight="normal" font-style="normal" fill="#111" >300</text>
<line x1="77.50" y1="511.50" x2="77.50" y2="507.50" stroke="#222" stroke-width="1.1" />
<text x="77.50" y="527.80" font-size="14.7" text-anchor="middle" font-weight="normal" font-style="normal" fill="#111" >20</text>
<line x1="121.40" y1="511.50" x2="121.40" y2="507.50" stroke="#222" stroke-width="1.1" />
<text x="121.40" y="527.80" font-size="14.7" text-anchor="middle" font-weight="normal" font-style="normal" fill="#111" >30</text>
<line x1="165.30" y1="511.50" x2="165.30" y2="507.50" stroke="#222" stroke-width="1.1" />
<text x="165.30" y="527.80" font-size="14.7" text-anchor="middle" font-weight="normal" font-style="normal" fill="#111" >40</text>
<line x1="209.20" y1="511.50" x2="209.20" y2="507.50" stroke="#222" stroke-width="1.1" />
<text x="209.20" y="527.80" font-size="14.7" text-anchor="middle" font-weight="normal" font-style="normal" fill="#111" >50</text>
<line x1="253.10" y1="511.50" x2="253.10" y2="507.50" stroke="#222" stroke-width="1.1" />
<text x="253.10" y="527.80" font-size="14.7" text-anchor="middle" font-weight="normal" font-style="normal" fill="#111" >60</text>
<line x1="297.00" y1="511.50" x2="297.00" y2="507.50" stroke="#222" stroke-width="1.1" />
<text x="297.00" y="527.80" font-size="14.7" text-anchor="middle" font-weight="normal" font-style="normal" fill="#111" >70</text>
<text x="155.1" y="549.0" font-size="14.9" fill="#111">Δ<tspan font-style="italic">d</tspan><tspan font-size="10.5" dy="3.5">33,d</tspan><tspan dy="-3.5" dx="-1.1"> (%)</tspan></text>
<text transform="translate(16.5,412) rotate(-90)" font-size="14.9" text-anchor="middle" fill="#111"><tspan font-style="italic">In situ</tspan> heating (°C)</text>
<circle cx="77.8" cy="449.6" r="3" fill="#5cc0f8"/>
<circle cx="99.7" cy="449.6" r="3" fill="#5cc0f8"/>
<circle cx="165.7" cy="449.5" r="3" fill="#5cc0f8"/>
<circle cx="210.2" cy="449.5" r="3" fill="#5cc0f8"/>
<circle cx="174.8" cy="380.6" r="3" fill="#5cc0f8"/>
<circle cx="183.5" cy="364.7" r="3" fill="#5cc0f8"/>
<rect x="123.50" y="377.60" width="5.8" height="5.8" fill="none" stroke="#d955cc" stroke-width="1"/>
<rect x="211.40" y="346.00" width="5.8" height="5.8" fill="none" stroke="#d955cc" stroke-width="1"/>
<rect x="216.10" y="346.00" width="5.8" height="5.8" fill="none" stroke="#d955cc" stroke-width="1"/>
<rect x="312.50" y="346.10" width="5.8" height="5.8" fill="none" stroke="#d955cc" stroke-width="1"/>
<polygon points="139.399,420.26 143.399,424.26 139.399,428.26 135.399,424.26" fill="#ff00cc"/>
<text x="100.90" y="427.50" font-size="14.9" text-anchor="start" font-weight="normal" font-style="normal" fill="#ff00cc" >KNN</text>
<polygon points="264.95,434.30 267.71,436.30 266.66,439.54 263.25,439.54 262.19,436.30" fill="#ffa500"/>
<text x="257.00" y="460.90" font-size="14.9" text-anchor="start" font-weight="normal" font-style="normal" fill="#cc6620" >BTO</text>
<text x="223.30" y="397.00" font-size="15.1" text-anchor="start" font-weight="normal" font-style="normal" fill="#7030a0" >Pb-based</text>
<text x="223.80" y="411.90" font-size="13.0" text-anchor="start" font-weight="normal" font-style="normal" fill="#7030a0" >(simulated)</text>
<text x="157.60" y="491.40" font-size="15.1" text-anchor="start" font-weight="normal" font-style="normal" fill="#3d85c6" >Pb-based</text>
<text x="157.60" y="506.00" font-size="13.0" text-anchor="start" font-weight="normal" font-style="normal" fill="#3d85c6" >(measured)</text>
<path d="M60.3,312.8 Q61.699999999999996,316.20000000000005 65.2,317.6 Q61.699999999999996,319.0 60.3,322.40000000000003 Q58.9,319.0 55.4,317.6 Q58.9,316.20000000000005 60.3,312.8 Z" fill="#ff1010"/>
<text x="88.90" y="330.70" font-size="14.9" text-anchor="start" font-weight="normal" font-style="normal" fill="#ff1010" >This work</text>
<line x1="89.40" y1="350.90" x2="77.50" y2="337.50" stroke="#ff1010" stroke-width="3" />
<polygon points="72.6,332.5 82.2,335.9 74.3,342.3" fill="#ff1010"/>
<text x="361.50" y="277.60" font-size="14.5" text-anchor="start" font-weight="bold" font-style="normal" fill="#000" >d</text>
<text x="361.00" y="304.60" font-size="14.9" text-anchor="start" font-weight="normal" font-style="normal" fill="#111" >Other Substrate or free</text>
<text x="554.30" y="304.40" font-size="15.15" text-anchor="start" font-weight="normal" font-style="normal" fill="#111" >Silicon Substrate</text>
<rect x="405.5" y="313.5" width="267.0" height="68.0" fill="#f5faf4"/>
<rect x="405.5" y="381.5" width="267.0" height="132.0" fill="#fdf7f4"/>
<defs><linearGradient id="gb" x1="0" y1="0" x2="0" y2="1"><stop offset="0" stop-color="#a9c9e9"/><stop offset="0.35" stop-color="#b5e0fa"/><stop offset="0.65" stop-color="#b5e0fa"/><stop offset="1" stop-color="#a9c9e9"/></linearGradient><linearGradient id="gr" x1="0" y1="0" x2="0" y2="1"><stop offset="0" stop-color="#ff8890"/><stop offset="0.4" stop-color="#ffbcc2"/><stop offset="0.6" stop-color="#ffbcc2"/><stop offset="1" stop-color="#ff8890"/></linearGradient><linearGradient id="gR" x1="0" y1="0" x2="0" y2="1"><stop offset="0" stop-color="#ff0000"/><stop offset="0.45" stop-color="#ff5a5a"/><stop offset="0.55" stop-color="#ff5a5a"/><stop offset="1" stop-color="#ff0000"/></linearGradient></defs>
<rect x="460.30" y="322.10" width="52.00" height="10.80" fill="url(#gb)"/>
<rect x="498.70" y="336.30" width="13.60" height="10.80" fill="url(#gb)"/>
<rect x="506.30" y="350.50" width="6.00" height="11.00" fill="url(#gb)"/>
<rect x="505.70" y="365.30" width="6.60" height="10.90" fill="url(#gb)"/>
<rect x="455.00" y="387.20" width="57.30" height="12.60" fill="url(#gb)"/>
<rect x="469.30" y="403.00" width="43.00" height="12.60" fill="url(#gb)"/>
<rect x="486.90" y="419.30" width="25.40" height="12.60" fill="url(#gb)"/>
<rect x="491.10" y="435.30" width="21.20" height="12.70" fill="url(#gb)"/>
<rect x="489.20" y="451.50" width="23.10" height="12.30" fill="url(#gb)"/>
<rect x="494.30" y="468.00" width="18.00" height="12.20" fill="url(#gb)"/>
<rect x="504.00" y="484.20" width="8.30" height="12.30" fill="url(#gb)"/>
<rect x="504.90" y="499.70" width="7.40" height="12.90" fill="url(#gb)"/>
<rect x="512.3" y="322.0" width="146.40" height="11" fill="url(#gR)"/>
<rect x="512.3" y="387.30" width="60.50" height="12.40" fill="url(#gr)"/>
<rect x="512.3" y="403.50" width="47.10" height="12.10" fill="url(#gr)"/>
<rect x="512.3" y="419.40" width="26.90" height="12.50" fill="url(#gr)"/>
<rect x="512.3" y="435.20" width="23.40" height="12.70" fill="url(#gr)"/>
<rect x="512.3" y="451.50" width="13.20" height="12.50" fill="url(#gr)"/>
<text x="401.00" y="328.90" font-size="12.9" text-anchor="end" font-weight="normal" font-style="normal" fill="#111" >ZrO<tspan font-size="9" dy="3">2</tspan></text>
<text x="411.30" y="330.60" font-size="11.4" text-anchor="start" font-weight="normal" font-style="normal" fill="#111" >2 μm PZT</text>
<text x="401.00" y="344.90" font-size="12.9" text-anchor="end" font-weight="normal" font-style="normal" fill="#111" >free</text>
<text x="411.30" y="346.40" font-size="11.4" text-anchor="start" font-weight="normal" font-style="normal" fill="#111" >1000 μm PVDF-BTO</text>
<text x="401.00" y="359.20" font-size="12.9" text-anchor="end" font-weight="normal" font-style="normal" fill="#111" >free</text>
<text x="411.30" y="358.50" font-size="11.4" text-anchor="start" font-weight="normal" font-style="normal" fill="#111" >23 μm BFO</text>
<text x="401.00" y="374.60" font-size="12.9" text-anchor="end" font-weight="normal" font-style="normal" fill="#111" >SrTiO<tspan font-size="9" dy="3">3</tspan></text>
<text x="411.30" y="373.70" font-size="11.4" text-anchor="start" font-weight="normal" font-style="normal" fill="#111" >0.15 μm KNN</text>
<text x="401.00" y="397.50" font-size="12.9" text-anchor="end" font-weight="normal" font-style="normal" fill="#111" >MgO</text>
<text x="411.30" y="397.80" font-size="11.4" text-anchor="start" font-weight="normal" font-style="normal" fill="#111" >1 μm PMnN-PZT</text>
<text x="401.00" y="416.00" font-size="12.9" text-anchor="end" font-weight="normal" font-style="normal" fill="#111" >MgO</text>
<text x="411.30" y="414.50" font-size="11.4" text-anchor="start" font-weight="normal" font-style="normal" fill="#111" >2.9 μm PZT</text>
<text x="401.00" y="431.10" font-size="12.9" text-anchor="end" font-weight="normal" font-style="normal" fill="#111" >Y-ZrO<tspan font-size="9" dy="3">2</tspan></text>
<text x="411.30" y="430.40" font-size="11.4" text-anchor="start" font-weight="normal" font-style="normal" fill="#111" >10 μm PZT</text>
<text x="401.00" y="446.70" font-size="12.9" text-anchor="end" font-weight="normal" font-style="normal" fill="#111" >Sapphire</text>
<text x="411.30" y="445.60" font-size="11.4" text-anchor="start" font-weight="normal" font-style="normal" fill="#111" >10 μm PZT</text>
<text x="401.00" y="462.30" font-size="12.9" text-anchor="end" font-weight="normal" font-style="normal" fill="#111" >SrTiO<tspan font-size="9" dy="3">3</tspan></text>
<text x="411.30" y="461.90" font-size="11.4" text-anchor="start" font-weight="normal" font-style="normal" fill="#111" >0.15 μm KNN</text>
<text x="401.00" y="479.10" font-size="12.9" text-anchor="end" font-weight="normal" font-style="normal" fill="#111" >free</text>
<text x="411.30" y="479.40" font-size="11.4" text-anchor="start" font-weight="normal" font-style="normal" fill="#111" >60 μm PVDF</text>
<text x="401.00" y="495.30" font-size="12.9" text-anchor="end" font-weight="normal" font-style="normal" fill="#111" >free</text>
<text x="411.30" y="495.50" font-size="11.4" text-anchor="start" font-weight="normal" font-style="normal" fill="#111" >60 μm PVDF</text>
<text x="401.00" y="510.30" font-size="12.9" text-anchor="end" font-weight="normal" font-style="normal" fill="#111" >free</text>
<text x="411.30" y="510.70" font-size="11.4" text-anchor="start" font-weight="normal" font-style="normal" fill="#111" >10 μm PVDF</text>
<text x="582.10" y="397.10" font-size="11.4" text-anchor="start" font-weight="normal" font-style="normal" fill="#111" >8 μm PZT</text>
<text x="564.50" y="415.00" font-size="11.4" text-anchor="start" font-weight="normal" font-style="normal" fill="#111" >1.5 μm PMN-PT</text>
<text x="544.80" y="430.40" font-size="11.4" text-anchor="start" font-weight="normal" font-style="normal" fill="#111" >1 μm PZT</text>
<text x="539.60" y="446.20" font-size="11.4" text-anchor="start" font-weight="normal" font-style="normal" fill="#111" >1 μm PZT</text>
<text x="530.90" y="463.00" font-size="11.4" text-anchor="start" font-weight="normal" font-style="normal" fill="#111" >10 μm PZT</text>
<text x="517.00" y="333.10" font-size="12.85" text-anchor="start" font-weight="normal" font-style="normal" fill="#111" >This work: 4 μm PZT</text>
<text x="669.90" y="372.90" font-size="15.2" text-anchor="end" font-weight="normal" font-style="normal" fill="#111" >Self-poled</text>
<text x="668.80" y="507.40" font-size="15.2" text-anchor="end" font-weight="normal" font-style="normal" fill="#111" >Poling required</text>
<line x1="405.50" y1="381.50" x2="672.50" y2="381.50" stroke="#b0b0b0" stroke-width="1" />
<line x1="512.30" y1="313.50" x2="512.30" y2="513.50" stroke="#333" stroke-width="1" />
<rect x="405.5" y="313.5" width="267.0" height="200.0" fill="none" stroke="#6a6a6a" stroke-width="1.1"/>
<text x="405.30" y="529.80" font-size="15.2" text-anchor="middle" font-weight="normal" font-style="normal" fill="#111" >400</text>
<line x1="458.80" y1="513.50" x2="458.80" y2="510.30" stroke="#3a3a3a" stroke-width="1" />
<text x="458.80" y="529.80" font-size="15.2" text-anchor="middle" font-weight="normal" font-style="normal" fill="#111" >200</text>
<line x1="512.30" y1="513.50" x2="512.30" y2="510.30" stroke="#3a3a3a" stroke-width="1" />
<text x="512.30" y="529.80" font-size="15.2" text-anchor="middle" font-weight="normal" font-style="normal" fill="#111" >0</text>
<line x1="565.80" y1="513.50" x2="565.80" y2="510.30" stroke="#3a3a3a" stroke-width="1" />
<text x="565.80" y="529.80" font-size="15.2" text-anchor="middle" font-weight="normal" font-style="normal" fill="#111" >200</text>
<line x1="619.30" y1="513.50" x2="619.30" y2="510.30" stroke="#3a3a3a" stroke-width="1" />
<text x="619.30" y="529.80" font-size="15.2" text-anchor="middle" font-weight="normal" font-style="normal" fill="#111" >400</text>
<text x="672.80" y="529.80" font-size="15.2" text-anchor="middle" font-weight="normal" font-style="normal" fill="#111" >600</text>
<text x="500.3" y="552.4" font-size="14.9" fill="#111"><tspan font-style="italic">d</tspan><tspan font-size="10.5" dy="3.5">33,d</tspan><tspan dy="-3.5" dx="-1.2"> (pC/N)</tspan></text>
</svg>
</body></html>
